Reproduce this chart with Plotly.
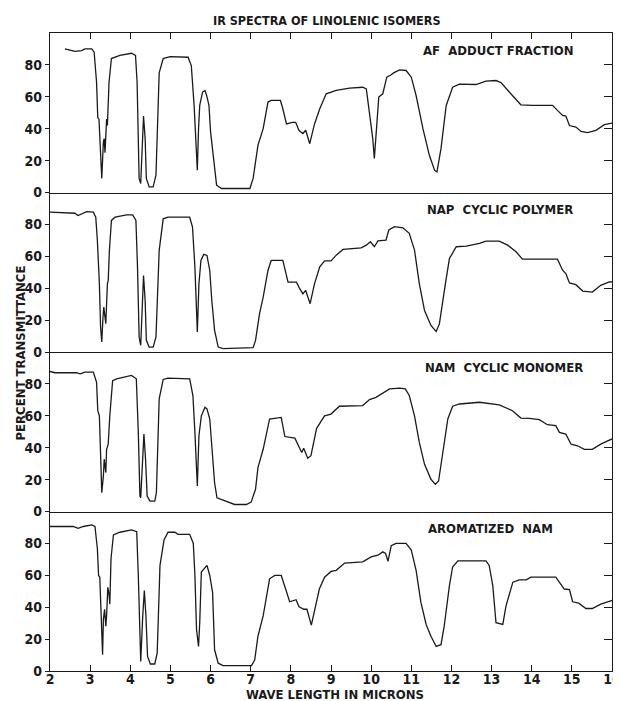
import plotly.graph_objects as go

# ---------------- data (wavelength in microns, percent transmittance) ----------------
af_x = [2.37, 2.62, 2.79, 2.87, 3.04, 3.10, 3.16, 3.19, 3.22, 3.24, 3.29, 3.33, 3.35, 3.37, 3.39, 3.41, 3.43, 3.47,
        3.53, 3.74, 4.03, 4.13, 4.17, 4.22, 4.26, 4.31, 4.33, 4.37, 4.40, 4.47, 4.57, 4.64, 4.72, 4.82, 4.99, 5.44,
        5.52, 5.59, 5.63, 5.67, 5.70, 5.73, 5.80, 5.86, 5.90, 5.96, 6.00, 6.06, 6.15, 6.27, 6.98, 7.06, 7.18, 7.31,
        7.43, 7.51, 7.74, 7.80, 7.89, 8.04, 8.12, 8.20, 8.30, 8.37, 8.47, 8.59, 8.72, 8.88, 9.13, 9.46, 9.79, 9.88,
        9.96, 10.04, 10.08, 10.13, 10.19, 10.29, 10.39, 10.50, 10.56, 10.71, 10.87, 11.00, 11.12, 11.29, 11.45, 11.58,
        11.64, 11.74, 11.87, 12.03, 12.20, 12.61, 12.86, 13.11, 13.24, 13.44, 13.73, 14.02, 14.52, 14.64, 14.77, 14.85,
        14.94, 15.10, 15.23, 15.39, 15.60, 15.81, 15.93, 16.0]
af_t = [90, 88.5, 89, 90, 90, 88, 69, 47, 46, 31.7, 8.8, 31.7, 33.8, 25, 44, 46, 42, 69,
        84, 86, 87.3, 86, 69, 8.8, 5.6, 46, 48, 33.8, 8.8, 3.5, 3.5, 10.8, 75, 84, 85.2, 84.8,
        79.6, 54.6, 29.6, 14, 40, 54.6, 63, 64, 61, 54.6, 38, 23, 4.6, 2.5, 2.5, 8.8, 29.6, 40,
        56.7, 57.7, 57.7, 52.5, 43, 44, 44, 39, 37, 39, 30.6, 43, 52.5, 61.9, 64, 65.4, 66, 65,
        50.4, 33.8, 21.3, 38, 59.8, 61.9, 72.3, 73.8, 75, 76.9, 76.5, 72.3, 60.8, 40, 23.3, 14,
        12.9, 27.5, 54.6, 66, 68, 67.7, 69.8, 70.2, 68.8, 63, 55, 54.6, 54.6, 51.5, 48.3, 47.9,
        42, 41, 38.3, 37.5, 39, 42.5, 43, 43.5]

nap_x = [2.0, 2.41, 2.62, 2.70, 2.79, 2.91, 3.08, 3.14, 3.18, 3.23, 3.26, 3.29, 3.32, 3.34, 3.37, 3.39, 3.43, 3.45,
         3.48, 3.53, 3.62, 3.91, 4.06, 4.14, 4.18, 4.22, 4.26, 4.30, 4.33, 4.37, 4.40, 4.47, 4.57, 4.64, 4.72, 4.82,
         4.94, 5.48, 5.55, 5.61, 5.65, 5.67, 5.71, 5.76, 5.83, 5.91, 5.98, 6.03, 6.10, 6.19, 6.31, 7.06, 7.12, 7.22,
         7.31, 7.43, 7.51, 7.80, 7.93, 8.14, 8.22, 8.30, 8.37, 8.48, 8.59, 8.72, 8.84, 9.00, 9.13, 9.30, 9.75, 9.88,
         9.98, 10.08, 10.17, 10.37, 10.44, 10.58, 10.79, 10.95, 11.08, 11.20, 11.33, 11.49, 11.62, 11.70, 11.85, 11.95,
         12.12, 12.37, 12.70, 12.86, 13.19, 13.40, 13.61, 13.77, 14.64, 14.77, 14.85, 14.94, 15.10, 15.27, 15.51, 15.72,
         15.93, 16.0]
nap_t = [87.7, 87, 87, 85.6, 86.6, 88, 87.7, 84.5, 70, 42.8, 15.7, 6.3, 21.9, 28.2, 21.9, 17.7, 42.8, 44.9,
         63.7, 82.5, 84.5, 86, 86, 82.5, 53.2, 9.4, 4.2, 32.4, 48, 32.4, 7.3, 3.1, 3.1, 9.4, 63.7, 83.5,
         84.5, 84.5, 78.3, 53.2, 21.9, 12.5, 42.8, 57.4, 61.2, 60.5, 51.1, 32.4, 13.6, 3.1, 2.1, 2.7, 7.3, 24,
         34.4, 51.1, 57.4, 57.4, 43.8, 43.8, 39.7, 36.5, 38.6, 30.3, 42.9, 53.4, 57.1, 57.1, 60.7, 64.3, 65.3, 67,
         69.1, 66, 69.7, 70.2, 76.5, 78.6, 77.9, 74.4, 63.9, 42.9, 26, 16.6, 12.8, 17.6, 42.9, 58.6,
         66, 66.4, 68.1, 69.5, 69.5, 67, 62.8, 58.2, 58.2, 51.3, 49.2, 43.3, 42.2, 38.2, 37.6, 41.8,
         43.9, 44]

nam_x = [2.0, 2.12, 2.66, 2.75, 2.87, 3.08, 3.16, 3.19, 3.23, 3.26, 3.29, 3.33, 3.35, 3.39, 3.41, 3.45, 3.49, 3.56,
         3.66, 4.03, 4.15, 4.20, 4.24, 4.26, 4.30, 4.34, 4.38, 4.42, 4.49, 4.61, 4.65, 4.72, 4.82, 4.94, 5.48, 5.56,
         5.61, 5.65, 5.67, 5.71, 5.77, 5.86, 5.91, 5.98, 6.02, 6.10, 6.16, 6.27, 6.48, 6.60, 6.89, 7.01, 7.12, 7.18,
         7.31, 7.47, 7.76, 7.85, 8.10, 8.17, 8.27, 8.32, 8.42, 8.50, 8.56, 8.64, 8.77, 8.84, 9.00, 9.21, 9.79, 9.96,
         10.12, 10.46, 10.71, 10.85, 10.95, 11.08, 11.20, 11.33, 11.49, 11.60, 11.68, 11.78, 11.91, 12.03, 12.20, 12.70,
         13.19, 13.52, 13.73, 13.94, 14.19, 14.39, 14.60, 14.69, 14.85, 14.98, 15.14, 15.31, 15.51, 15.72, 15.97, 16.0]
nam_t = [87.8, 87, 87, 86.3, 87.4, 87.4, 81, 63.2, 60, 26.5, 11.8, 22.3, 32.8, 24.4, 39, 42.2, 60, 82,
         83.2, 85.3, 83.2, 49.6, 9.7, 8.6, 32.8, 48.5, 32.8, 9.7, 6.5, 6.5, 11.8, 70.6, 82.8, 83.6, 83.2, 72.7,
         49.6, 22.3, 16, 47.5, 60, 65.3, 64.3, 58, 45.4, 18, 8.6, 7.6, 5.5, 4.4, 4.4, 5.9, 13.9, 27.5,
         39, 58, 59, 47, 46, 42, 37, 39.7, 33.4, 35, 43, 52, 57.3, 60, 61.1, 66, 66.4, 70.2,
         71.6, 76.9, 77.3, 76.9, 72.7, 60, 43.3, 29.6, 20.2, 17, 19.1, 34.9, 58, 66, 67.4, 68.5,
         66.8, 63.2, 58.6, 58.4, 57.6, 54.4, 53.8, 49.6, 48.5, 42.2, 41.2, 39, 39, 42.2, 45.4, 45.5]

arom_x = [2.0, 2.58, 2.70, 2.83, 3.04, 3.12, 3.18, 3.21, 3.24, 3.27, 3.31, 3.33, 3.36, 3.39, 3.41, 3.44, 3.47, 3.49,
          3.52, 3.58, 3.74, 4.03, 4.16, 4.20, 4.24, 4.26, 4.31, 4.35, 4.39, 4.43, 4.50, 4.61, 4.67, 4.74, 4.84, 4.94,
          5.11, 5.19, 5.48, 5.57, 5.61, 5.65, 5.70, 5.73, 5.77, 5.86, 5.91, 5.98, 6.05, 6.10, 6.19, 6.31, 7.02, 7.10,
          7.18, 7.31, 7.47, 7.60, 7.76, 7.87, 7.97, 8.13, 8.20, 8.32, 8.40, 8.51, 8.60, 8.71, 8.84, 9.00, 9.13, 9.34,
          9.79, 10.00, 10.17, 10.29, 10.36, 10.42, 10.50, 10.62, 10.87, 11.00, 11.12, 11.24, 11.37, 11.49, 11.62, 11.74,
          11.82, 11.95, 12.03, 12.16, 12.86, 12.94, 13.03, 13.11, 13.28, 13.36, 13.53, 13.69, 13.86, 13.98, 14.60, 14.73,
          14.81, 14.94, 15.02, 15.17, 15.35, 15.51, 15.72, 15.97, 16.0]
arom_t = [90.6, 90.6, 89.5, 90.6, 91.6, 90.6, 76.8, 59.9, 58.8, 32.4, 10.2, 32.4, 38.7, 28.1, 34.5, 52.5, 48.3, 41.9,
          70.5, 85.3, 87, 88.5, 87.4, 59.9, 9.1, 5.9, 34.5, 50.4, 34.5, 9.1, 4.4, 4.4, 11.2, 66.2, 82.1, 87,
          87, 85.7, 85.7, 80, 59.9, 26, 15.4, 30.3, 62, 65.2, 66.2, 59.9, 49.3, 13.3, 4.9, 3.4, 3.4, 7,
          21.8, 34.5, 57.8, 59.9, 59.9, 51.4, 43.4, 44.7, 40.4, 38.7, 38.7, 28.8, 38.7, 51.4, 58.8, 62.4, 63.1, 67.7,
          68.4, 71.5, 72.6, 74.7, 73.7, 68.8, 78.5, 80, 80, 75.8, 63.1, 43, 29.2, 21.8, 15.4, 16.5,
          28.1, 53.5, 65.2, 69, 69, 66.2, 53.5, 30.3, 29.2, 40.8, 55.7, 57.1, 57.1, 58.8, 58.8, 54.6,
          51.4, 51, 43.4, 42.5, 39.2, 39.2, 41.9, 44, 44.2]

panel_labels = ["AF  ADDUCT FRACTION", "NAP  CYCLIC POLYMER", "NAM  CYCLIC MONOMER", "AROMATIZED  NAM"]
x_ticks = list(range(2, 17))
y_ticks = [0, 20, 40, 60, 80]
right_ticks = [20, 40, 60, 80]

series = [(af_x, af_t), (nap_x, nap_t), (nam_x, nam_t), (arom_x, arom_t)]

FONT = "DejaVu Sans Condensed, Liberation Sans Narrow, sans-serif"
INK = "#1a1a1a"
LW = 1.2

fig = go.Figure()
layout = dict(
    width=613, height=693,
    margin=dict(l=42, r=9, t=25, b=30, autoexpand=False),
    paper_bgcolor="white", plot_bgcolor="white",
    showlegend=False,
    font=dict(family=FONT, color=INK),
)

domains = [(0.75, 1.0), (0.5, 0.75), (0.25, 0.5), (0.0, 0.25)]
for i, ((xs, ts), dom) in enumerate(zip(series, domains), start=1):
    xa = "x" if i == 1 else f"x{i}"
    ya = "y" if i == 1 else f"y{i}"
    fig.add_trace(go.Scatter(x=xs, y=ts, mode="lines", xaxis=xa, yaxis=ya,
                             line=dict(color=INK, width=1.3), hoverinfo="x+y"))
    # single-point (invisible) line trace so the right-hand inside-tick axis gets drawn
    fig.add_trace(go.Scatter(x=xs[:1], y=ts[:1], mode="lines", xaxis=xa, yaxis=f"y{i + 4}",
                             line=dict(color="rgba(0,0,0,0)"), hoverinfo="skip"))

    xkey = "xaxis" if i == 1 else f"xaxis{i}"
    ykey = "yaxis" if i == 1 else f"yaxis{i}"
    xcfg = dict(range=[2, 16], domain=[0, 1], anchor=ya, showgrid=False, zeroline=False,
                showline=True, linecolor=INK, linewidth=LW, mirror=False, side="bottom",
                automargin=False,
                tickvals=x_ticks, ticks="", showticklabels=False)
    if i == 1:
        xcfg.update(side="top", mirror=True, ticks="inside", ticklen=6, tickwidth=1.2, tickcolor=INK,
                    tickvals=list(range(3, 16)))
    if i == 4:
        xcfg.update(ticks="inside", ticklen=6, tickwidth=1.2, tickcolor=INK,
                    showticklabels=True, ticktext=[str(v) for v in x_ticks],
                    ticklabelstandoff=-5, ticklabeloverflow="allow",
                    tickfont=dict(family=FONT, size=14, color=INK, weight="bold"))
    if i > 1:
        xcfg["matches"] = "x"
    layout[xkey] = xcfg
    layout[ykey] = dict(range=[0, 100], domain=list(dom), anchor=xa, showgrid=False, zeroline=False,
                        showline=True, linecolor=INK, linewidth=LW, automargin=False,
                        tickvals=y_ticks, ticks="outside", ticklen=4, tickwidth=1.2, tickcolor=INK,
                        tickfont=dict(family=FONT, size=14, color=INK, weight="bold"))
    layout[f"yaxis{i + 4}"] = dict(range=[0, 100], overlaying=ya, side="right", anchor=xa,
                                   showgrid=False, zeroline=False, showline=True, automargin=False,
                                   linecolor=INK, linewidth=LW,
                                   tickvals=right_ticks, ticks="inside", ticklen=8, tickwidth=1.2,
                                   tickcolor=INK, showticklabels=False)

fig.update_layout(**layout)

ann_font = dict(family=FONT, size=13, color=INK, weight="bold")
label_pos = [(0.934, 0.973), (0.934, 0.724), (0.952, 0.475), (0.899, 0.224)]
for text, (px, py) in zip(panel_labels, label_pos):
    fig.add_annotation(text=text, xref="paper", yref="paper", x=px, y=py,
                       xanchor="right", yanchor="middle", showarrow=False, font=ann_font)

fig.add_annotation(text="IR SPECTRA OF LINOLENIC ISOMERS", xref="paper", yref="paper",
                   x=0.492, y=1.020, xanchor="center", yanchor="middle", showarrow=False,
                   font=dict(family=FONT, size=12.5, color=INK, weight="bold"))
fig.add_annotation(text="WAVE LENGTH IN MICRONS", xref="paper", yref="paper",
                   x=0.508, y=-0.037, xanchor="center", yanchor="middle", showarrow=False,
                   font=dict(family=FONT, size=13, color=INK, weight="bold"))
fig.add_annotation(text="PERCENT TRANSMITTANCE", xref="paper", yref="paper",
                   x=-0.053, y=0.498, xanchor="center", yanchor="middle", showarrow=False,
                   textangle=-90, font=dict(family=FONT, size=13, color=INK, weight="bold"))

fig.write_html("out.html")
